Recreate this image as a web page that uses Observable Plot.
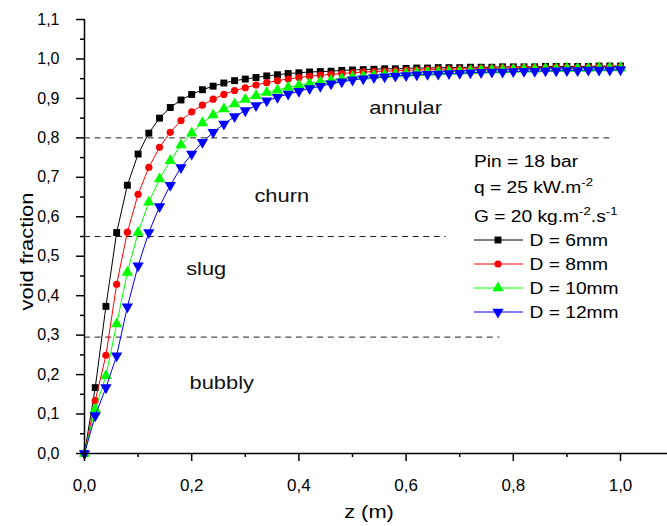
<!DOCTYPE html>
<html><head><meta charset="utf-8">
<script src="https://cdn.jsdelivr.net/npm/d3@7"></script>
<script src="https://cdn.jsdelivr.net/npm/@observablehq/plot@0.6"></script>
<style>
body{margin:0;background:#fff;}
#chart{position:relative;width:667px;height:526px;}
</style></head><body><div id="chart"></div>
<script>
// ---------- data ----------
const zValues = [0,0.02,0.04,0.06,0.08,0.10,0.12,0.14,0.16,0.18,0.20,0.22,0.24,0.26,0.28,0.30,0.32,0.34,0.36,0.38,0.40,0.42,0.44,0.46,0.48,0.50,0.52,0.54,0.56,0.58,0.60,0.62,0.64,0.66,0.68,0.70,0.72,0.74,0.76,0.78,0.80,0.82,0.84,0.86,0.88,0.90,0.92,0.94,0.96,0.98,1.00];
const voidD6 = [0,.167,.373,.560,.680,.759,.812,.850,.877,.896,.910,.922,.931,.939,.945,.949,.953,.957,.960,.963,.965,.967,.968,.969,.971,.972,.973,.974,.975,.975,.976,.977,.977,.978,.978,.978,.979,.979,.979,.980,.980,.980,.980,.981,.981,.981,.981,.981,.982,.982,.982];
const voidD8 = [0,.134,.249,.429,.561,.657,.725,.776,.814,.844,.866,.883,.898,.910,.920,.927,.934,.940,.945,.949,.953,.956,.959,.961,.963,.965,.967,.968,.969,.970,.971,.972,.973,.974,.974,.975,.975,.976,.976,.977,.977,.978,.978,.978,.979,.979,.979,.979,.980,.980,.980];
const voidD10 = [0,.112,.197,.328,.459,.560,.637,.696,.742,.782,.812,.838,.858,.873,.886,.897,.907,.915,.921,.928,.933,.938,.942,.946,.950,.954,.956,.958,.960,.962,.963,.965,.966,.967,.968,.969,.970,.971,.972,.972,.973,.974,.974,.975,.975,.976,.976,.976,.977,.977,.977];
const voidD12 = [0,.096,.167,.248,.372,.476,.560,.626,.680,.725,.759,.789,.814,.835,.854,.869,.882,.894,.903,.911,.918,.925,.931,.937,.942,.947,.950,.953,.955,.957,.958,.960,.961,.962,.963,.964,.965,.966,.967,.967,.968,.969,.969,.970,.970,.971,.971,.972,.972,.972,.973];
const seriesNames = ["D = 6mm","D = 8mm","D = 10mm","D = 12mm"];

const boundaryValues = [0.8, 0.55, 0.295];
const boundaryStart = [0, 0, 0];
const boundaryEnd = [0.98, 0.675, 0.775];

const regimeNames = ["annular","churn","slug","bubbly"];
const regimeZ = [0.599, 0.368, 0.227, 0.256];
const regimeV = [0.877, 0.654, 0.467, 0.180];

const infoLines = [
  [["Pin = 18 bar", false]],
  [["q = 25 kW.m", false], ["-2", true]],
  [["G = 20 kg.m", false], ["-2", true], [".s", false], ["-1", true]]
];

const xMajor = [0,0.2,0.4,0.6,0.8,1.0];
const xMinor = [0.1,0.3,0.5,0.7,0.9];
const yMajor = [0,0.1,0.2,0.3,0.4,0.5,0.6,0.7,0.8,0.9,1.0,1.1];
const yMinor = [0.05,0.15,0.25,0.35,0.45,0.55,0.65,0.75,0.85,0.95,1.05];
const xTitle = "z (m)";
const yTitle = "void fraction";

// ---------- styles ----------
const FONT = "'Liberation Sans', Arial, Helvetica, sans-serif";
const sqrt3 = Math.sqrt(3);
const triangleDown = {
  draw(context, size) {
    const y = -Math.sqrt(size / (sqrt3 * 3));
    context.moveTo(0, -y * 2);
    context.lineTo(-sqrt3 * y, y);
    context.lineTo(sqrt3 * y, y);
    context.closePath();
  }
};
const seriesValues = [voidD6, voidD8, voidD10, voidD12];
const seriesColors = ["#000000", "#ff0000", "#00ff00", "#0000ff"];
const seriesSymbols = ["square", "circle", "triangle", triangleDown];
const seriesR = [3.9, 3.6, 4.2, 4.2];

const fmt = d => d.toFixed(1).replace(".", ",");

const marks = [];
const boundaries = boundaryValues.map((v, i) => ({v, x1: boundaryStart[i], x2: boundaryEnd[i]}));
marks.push(Plot.ruleY(boundaries, {y: "v", x1: "x1", x2: "x2", stroke: "#222", strokeWidth: 1, strokeDasharray: "6,4.6"}));
const regimes = regimeNames.map((n, i) => ({n, z: regimeZ[i], v: regimeV[i]}));
marks.push(Plot.text(regimes, {x: "z", y: "v", text: "n", fontSize: 19, fill: "#111", textAnchor: "middle", lineAnchor: "middle", className: "regime"}));
seriesNames.forEach((name, s) => {
  const rows = zValues.map((z, i) => ({z, v: seriesValues[s][i]}));
  marks.push(Plot.line(rows, {x: "z", y: "v", stroke: seriesColors[s], strokeWidth: 1}));
  marks.push(Plot.dot(rows, {x: "z", y: "v", symbol: seriesSymbols[s], r: seriesR[s], fill: seriesColors[s], stroke: "none"}));
});
marks.push(Plot.axisX({ticks: xMajor, tickSize: 8, tickPadding: 17, tickFormat: fmt, fontSize: 17, strokeWidth: 1.5}));
marks.push(Plot.axisX({ticks: xMinor, tickSize: 4, tickFormat: () => "", strokeWidth: 1.5}));
marks.push(Plot.axisY({ticks: yMajor, tickSize: 8, tickPadding: 17, tickFormat: fmt, fontSize: 16, strokeWidth: 1.5}));
marks.push(Plot.axisY({ticks: yMinor, tickSize: 4, tickFormat: () => "", strokeWidth: 1.5}));
marks.push(Plot.ruleY([0], {stroke: "#000", strokeWidth: 1.5}));
marks.push(Plot.ruleX([0], {stroke: "#000", strokeWidth: 1.5}));
marks.push(Plot.text([xTitle], {frameAnchor: "bottom", dx: -7, dy: 58, fontSize: 19, lineAnchor: "middle", textAnchor: "middle", className: "axtitle"}));
marks.push(Plot.text([yTitle], {frameAnchor: "left", dx: -58, dy: 15, rotate: -90, fontSize: 19, lineAnchor: "middle", textAnchor: "middle", className: "axtitle"}));

const W = 667, H = 526, ML = 84, MR = 0, MT = 19, MB = 73;
const plot = Plot.plot({
  width: W, height: H,
  marginLeft: ML, marginRight: MR, marginTop: MT, marginBottom: MB,
  x: {domain: [0, (W - ML - MR) / 536], label: null},
  y: {domain: [0, 1.1], label: null},
  style: {fontFamily: FONT, color: "#000", background: "#fff", overflow: "visible"},
  marks
});
document.getElementById("chart").appendChild(plot);

// ---------- legend (drawn on top) ----------
const svg = d3.select(plot);
const lg = svg.append("g").attr("font-family", FONT).attr("font-size", 16).attr("fill", "#000").attr("text-anchor", "start");
const infoBase = [166.7, 193.3, 221.7];
const legX = 474;
infoLines.forEach((parts, i) => {
  const t = lg.append("text").attr("x", legX).attr("y", infoBase[i]).attr("class", "legtext");
  let raised = false;
  parts.forEach(([str, sup]) => {
    const sp = t.append("tspan").text(str);
    if (sup) { sp.attr("font-size", 11).attr("dy", raised ? 0 : -7); raised = true; }
    else { if (raised) sp.attr("dy", 7); raised = false; }
  });
});
const legBase = [246, 270, 294, 318.3];
seriesNames.forEach((name, s) => {
  const cy = Math.round(legBase[s] - 6);
  lg.append("line").attr("x1", legX).attr("x2", legX + 49).attr("y1", cy).attr("y2", cy)
    .attr("stroke", seriesColors[s]).attr("stroke-width", 1);
  const type = typeof seriesSymbols[s] === "string"
    ? {square: d3.symbolSquare, circle: d3.symbolCircle, triangle: d3.symbolTriangle}[seriesSymbols[s]]
    : seriesSymbols[s];
  lg.append("path").attr("transform", `translate(${legX + 24},${cy})`)
    .attr("d", d3.symbol(type, seriesR[s] * seriesR[s] * Math.PI)()).attr("fill", seriesColors[s]);
  lg.append("text").attr("x", legX + 55.5).attr("y", legBase[s]).attr("class", "legtext").text(name);
});

function stretch(nodes, f) {
  nodes.forEach(el => {
    const L = el.getComputedTextLength();
    if (L > 0) { el.setAttribute("textLength", L * f); el.setAttribute("lengthAdjust", "spacingAndGlyphs"); }
  });
}
stretch(plot.querySelectorAll("text.legtext"), 1.2);
stretch(plot.querySelectorAll(".regime text"), 1.15);
stretch(plot.querySelectorAll(".axtitle text"), 1.15);
</script></body></html>
